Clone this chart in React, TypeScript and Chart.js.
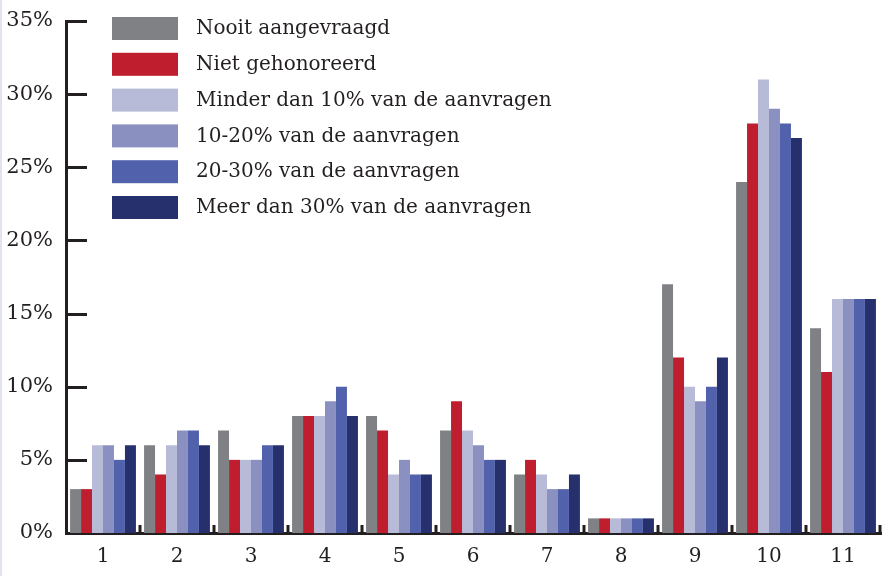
import React, { useEffect, useRef } from "react";
import { Chart, registerables } from "chart.js";
Chart.register(...registerables);

const categories = ["1", "2", "3", "4", "5", "6", "7", "8", "9", "10", "11"];
const nooitAangevraagd = [3, 6, 7, 8, 8, 7, 4, 1, 17, 24, 14];
const nietGehonoreerd = [3, 4, 5, 8, 7, 9, 5, 1, 12, 28, 11];
const minderDan10 = [6, 6, 5, 8, 4, 7, 4, 1, 10, 31, 16];
const tien20 = [6, 7, 5, 9, 5, 6, 3, 1, 9, 29, 16];
const twintig30 = [5, 7, 6, 10, 4, 5, 3, 1, 10, 28, 16];
const meerDan30 = [6, 6, 6, 8, 4, 5, 4, 1, 12, 27, 16];
const seriesLabels = [
  "Nooit aangevraagd",
  "Niet gehonoreerd",
  "Minder dan 10% van de aanvragen",
  "10-20% van de aanvragen",
  "20-30% van de aanvragen",
  "Meer dan 30% van de aanvragen",
];
const seriesValues = [nooitAangevraagd, nietGehonoreerd, minderDan10, tien20, twintig30, meerDan30];
const seriesColors = ["#808184", "#be1e2d", "#b7bbd8", "#8a91c0", "#5261ab", "#25306c"];
const yMax = 35;
const yStep = 5;

const FONT = "'DejaVu Serif', serif";
const TEXT = "#231f20";

const innerTicks = {
  id: "innerTicks",
  afterDatasetsDraw(chart: any) {
    const { ctx, chartArea, scales } = chart;
    const y = scales.y;
    const x = scales.x;
    ctx.save();
    ctx.strokeStyle = TEXT;
    ctx.lineWidth = 3;
    for (let v = yStep; v <= yMax; v += yStep) {
      const py = Math.round(y.getPixelForValue(v)) + 0.5;
      ctx.beginPath();
      ctx.moveTo(chartArea.left, py);
      ctx.lineTo(chartArea.left + 21, py);
      ctx.stroke();
    }
    for (let i = 1; i <= categories.length; i++) {
      const px = Math.round(x.getPixelForValue(i - 0.5));
      ctx.beginPath();
      ctx.moveTo(px, chartArea.bottom);
      ctx.lineTo(px, chartArea.bottom - 8);
      ctx.stroke();
    }
    ctx.beginPath();
    ctx.moveTo(chartArea.right, chartArea.bottom + 0.5);
    ctx.lineTo(chart.width, chartArea.bottom + 0.5);
    ctx.stroke();
    ctx.restore();
  },
};

const customLegend = {
  id: "customLegend",
  afterDraw(chart: any) {
    const { ctx, chartArea } = chart;
    const bx = chartArea.left + 46;
    const top = chartArea.top - 4;
    const step = 35.8;
    ctx.save();
    ctx.font = "20px " + FONT;
    ctx.textBaseline = "middle";
    chart.data.datasets.forEach((ds: any, i: number) => {
      const by = top + i * step;
      ctx.fillStyle = ds.backgroundColor;
      ctx.fillRect(bx, by, 66, 23);
      ctx.fillStyle = TEXT;
      ctx.fillText(ds.label, bx + 84, by + 12);
    });
    ctx.restore();
  },
};

export default function App() {
  const ref = useRef<HTMLCanvasElement>(null);
  useEffect(() => {
    if (!ref.current) return;
    const chart = new Chart(ref.current, {
      type: "bar",
      data: {
        labels: categories,
        datasets: seriesValues.map((vals, i) => ({
          label: seriesLabels[i],
          data: vals,
          backgroundColor: seriesColors[i],
          borderWidth: 0,
          categoryPercentage: 0.89,
          barPercentage: 1.0,
        })),
      },
      options: {
        animation: false,
        responsive: false,
        maintainAspectRatio: false,
        layout: { padding: { top: 21, right: 2, left: 0, bottom: 0 } },
        plugins: { legend: { display: false }, tooltip: { enabled: false } },
        scales: {
          x: {
            grid: { display: false, drawTicks: false },
            border: { display: true, width: 3, color: TEXT },
            ticks: { color: TEXT, font: { family: FONT, size: 20 }, padding: 12 },
            afterFit: (s: any) => {
              s.height = 43;
              s.paddingLeft = 0;
              s.paddingRight = 0;
            },
          },
          y: {
            min: 0,
            max: yMax,
            grid: { display: false, drawTicks: false },
            border: { display: true, width: 3, color: TEXT },
            ticks: {
              stepSize: yStep,
              color: TEXT,
              font: { family: FONT, size: 21 },
              padding: 13,
              callback: (v: any) => v + "%",
            },
            afterFit: (s: any) => {
              s.width = 66;
              s.paddingTop = 0;
              s.paddingBottom = 0;
            },
          },
        },
      },
      plugins: [innerTicks, customLegend],
    });
    return () => chart.destroy();
  }, []);
  return (
    <div style={{ position: "fixed", left: 0, top: 0, width: 882, height: 576, background: "#fff" }}>
      <canvas ref={ref} width={882} height={576} style={{ display: "block" }} />
      <div style={{ position: "absolute", left: 0, top: 0, width: 2, height: 576, background: "#e2e2f2" }} />
    </div>
  );
}
